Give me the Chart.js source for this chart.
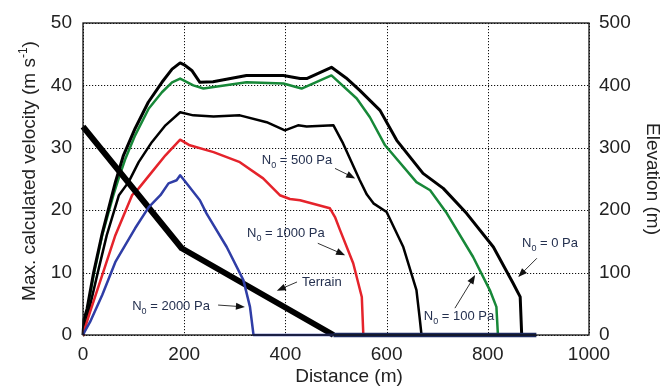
<!DOCTYPE html>
<html>
<head>
<meta charset="utf-8">
<script src="https://cdn.jsdelivr.net/npm/chart.js@4"></script>
<style>
  html, body { margin: 0; padding: 0; background: #fff; }
  #wrap { width: 671px; height: 390px; }
</style>
</head>
<body>
<div id="wrap"><canvas id="velChart" width="671" height="390"></canvas></div>
<script>
// max velocity along the path (distance m, velocity m/s) for each basal stress N0
const n0_0Pa = [[0,0],[2,2.5],[8,4.2],[21,10],[38,16.3],[57,22.3],[64,24.5],[80,28.8],[103,33.1],[129,37.3],[156,40.5],[176,42.6],[192,43.6],[200,43.3],[215,42.4],[231,40.5],[257,40.6],[323,41.6],[396,41.6],[429,41.1],[442,41.1],[491,42.9],[520,41.2],[547,39.2],[587,36],[607,33.1],[620,31.2],[672,25.9],[712,23.5],[758,19.5],[811,14.1],[850,8.3],[864,6.1],[867,0]];
const n0_100Pa = [[0,0],[1.3,0.5],[8,3.7],[21,9.6],[38,16],[60,22.4],[70.5,25.1],[84,28.3],[103,32],[130,36.3],[156,38.9],[176,40.5],[192,41.1],[218,40],[238,39.5],[323,40.5],[396,40.3],[432,39.5],[491,41.6],[541,37.9],[567,34.9],[597,30.4],[659,24.5],[686,23.2],[719,19.5],[771,12.5],[804,7.2],[817,4.5],[820,0]];
const n0_500Pa = [[0,0],[1.5,0.5],[11,3.7],[28,9.6],[47,16],[71,22.4],[90,24.5],[110,27.7],[136,30.9],[163,33.6],[192,35.7],[218,35.2],[258,35],[310,35.2],[363,34.1],[399,32.8],[425,33.6],[442,33.4],[495,33.6],[514,30.7],[547,24.8],[561,22.5],[574,21.1],[600,19.7],[633,14.1],[659,7.2],[665,3],[669,0]];
const n0_1000Pa = [[0,0],[1.5,0.5],[14,3.7],[38,9.6],[64,16],[97,22.4],[110,23.5],[136,26.1],[163,28.8],[192,31.3],[211,30.4],[258,29.3],[310,27.7],[356,25.1],[389,22.4],[409,21.8],[429,21.6],[488,20.3],[498,18.9],[508,16.8],[534,11.5],[551,6.1],[554,0]];
const n0_2000Pa = [[0,0],[3,0.5],[14,2.1],[38,6.4],[64,11.7],[103,17.1],[130,20.5],[153,22.4],[169,24.3],[185,24.8],[192,25.6],[200,24.8],[231,21.6],[244,19.5],[284,14.1],[317,8.8],[330,4.5],[337,0],[495,0]];

// terrain profile (distance m, elevation m) and the flat runout
const terrain = [[0,334],[195,139],[495,0]];
const runout = [[495,0],[896,0]];

const xTicks = [0, 200, 400, 600, 800, 1000];
const velTicks = [0, 10, 20, 30, 40, 50];
const elevTicks = [0, 100, 200, 300, 400, 500];

// callout labels: text after the subscript, label centre, arrow from -> to (velocity axis units)
const callouts = [
  { sub: true, text: " = 500 Pa", at: [423, 28.0], from: [498, 26.7], to: [538, 25.1] },
  { sub: true, text: " = 1000 Pa", at: [401, 16.3], from: [464, 14.7], to: [518, 12.8] },
  { sub: false, text: "Terrain", at: [472, 8.5], from: [423, 8.5], to: [383, 7.1] },
  { sub: true, text: " = 2000 Pa", at: [174, 4.5], from: [267, 4.8], to: [320, 4.5] },
  { sub: true, text: " = 100 Pa", at: [743, 2.9], from: [735, 4.3], to: [775, 9.6] },
  { sub: true, text: " = 0 Pa", at: [923, 14.7], from: [897, 12.3], to: [860, 9.3] }
];

const FONT = "'Liberation Sans', Arial, sans-serif";
const pts = arr => arr.map(p => ({ x: p[0], y: p[1] }));

function line(data, color, width, axis) {
  return {
    data: pts(data),
    borderColor: color,
    borderWidth: width,
    borderJoinStyle: "round",
    pointRadius: 0,
    tension: 0,
    fill: false,
    clip: false,
    yAxisID: axis || "y"
  };
}

// dotted grid at the tick positions, snapped to whole pixels
const dottedGrid = {
  id: "dottedGrid",
  beforeDatasetsDraw(c) {
    const ctx = c.ctx;
    const a = c.chartArea;
    ctx.save();
    ctx.strokeStyle = "#111";
    ctx.lineWidth = 1;
    ctx.setLineDash([1.2, 1.8]);
    c.scales.x.ticks.forEach(t => {
      const px = Math.round(c.scales.x.getPixelForValue(t.value)) + 0.5;
      ctx.beginPath();
      ctx.moveTo(px, a.top);
      ctx.lineTo(px, a.bottom);
      ctx.stroke();
    });
    c.scales.y.ticks.forEach(t => {
      const py = Math.round(c.scales.y.getPixelForValue(t.value)) + 0.5;
      ctx.beginPath();
      ctx.moveTo(a.left, py);
      ctx.lineTo(a.right, py);
      ctx.stroke();
    });
    ctx.restore();
  }
};

const frame = {
  id: "frame",
  afterDraw(c) {
    const ctx = c.ctx;
    const a = c.chartArea;
    const x = c.scales.x, y = c.scales.y;
    ctx.save();

    ctx.strokeStyle = "#111";
    ctx.lineWidth = 1.3;
    ctx.strokeRect(a.left, a.top, a.right - a.left, a.bottom - a.top);

    // callouts
    callouts.forEach(cl => {
      const cx = x.getPixelForValue(cl.at[0]);
      const cy = y.getPixelForValue(cl.at[1]);
      ctx.font = "13px " + FONT;
      ctx.textBaseline = "middle";
      ctx.fillStyle = "#24304f";
      const subFont = "9px " + FONT;
      let wN = 0, wS = 0;
      if (cl.sub) {
        wN = ctx.measureText("N").width;
        ctx.font = subFont;
        wS = ctx.measureText("0").width;
        ctx.font = "13px " + FONT;
      }
      const wT = ctx.measureText(cl.text).width;
      let sx = cx - (wN + wS + wT) / 2;
      ctx.textAlign = "left";
      if (cl.sub) {
        ctx.fillText("N", sx, cy);
        sx += wN;
        ctx.font = subFont;
        ctx.fillText("0", sx, cy + 5);
        sx += wS;
        ctx.font = "13px " + FONT;
      }
      ctx.fillText(cl.text, sx, cy);

      const x0 = x.getPixelForValue(cl.from[0]), y0 = y.getPixelForValue(cl.from[1]);
      const x1 = x.getPixelForValue(cl.to[0]), y1 = y.getPixelForValue(cl.to[1]);
      const ang = Math.atan2(y1 - y0, x1 - x0);
      ctx.strokeStyle = "#333";
      ctx.lineWidth = 1;
      ctx.beginPath();
      ctx.moveTo(x0, y0);
      ctx.lineTo(x1 - 6 * Math.cos(ang), y1 - 6 * Math.sin(ang));
      ctx.stroke();
      ctx.fillStyle = "#111";
      ctx.beginPath();
      ctx.moveTo(x1, y1);
      ctx.lineTo(x1 - 9 * Math.cos(ang) + 3.5 * Math.sin(ang), y1 - 9 * Math.sin(ang) - 3.5 * Math.cos(ang));
      ctx.lineTo(x1 - 9 * Math.cos(ang) - 3.5 * Math.sin(ang), y1 - 9 * Math.sin(ang) + 3.5 * Math.cos(ang));
      ctx.closePath();
      ctx.fill();
    });

    // axis titles
    ctx.fillStyle = "#222";
    ctx.font = "19px " + FONT;
    ctx.textBaseline = "middle";
    ctx.textAlign = "center";
    ctx.fillText("Distance (m)", 349, 377);

    ctx.save();
    ctx.translate(652, 179);
    ctx.rotate(Math.PI / 2);
    ctx.fillText("Elevation (m)", 0, 0);
    ctx.restore();

    ctx.save();
    ctx.translate(30, 171);
    ctx.rotate(-Math.PI / 2);
    const main = "Max. calculated velocity (m s";
    ctx.font = "19px " + FONT;
    const wm = ctx.measureText(main).width;
    ctx.font = "12px " + FONT;
    const wsup = ctx.measureText("-1").width;
    ctx.font = "19px " + FONT;
    const wc = ctx.measureText(")").width;
    let tx = -(wm + wsup + wc) / 2;
    ctx.textAlign = "left";
    ctx.fillText(main, tx, 0);
    tx += wm;
    ctx.font = "12px " + FONT;
    ctx.fillText("-1", tx, -6);
    tx += wsup;
    ctx.font = "19px " + FONT;
    ctx.fillText(")", tx, 0);
    ctx.restore();

    ctx.restore();
  }
};

const noGrid = { display: false, drawTicks: false };
const tickFont = { family: FONT, size: 19 };

new Chart(document.getElementById("velChart"), {
  type: "line",
  data: {
    datasets: [
      line(runout, "#1c2a5e", 4.5, "y2"),
      line(n0_2000Pa, "#2f3da6", 2.5),
      line(terrain, "#000", 6, "y2"),
      line(n0_1000Pa, "#e5232b", 2.5),
      line(n0_500Pa, "#000", 2.5),
      line(n0_0Pa, "#000", 3),
      line(n0_100Pa, "#178838", 2.5)
    ]
  },
  options: {
    responsive: false,
    animation: false,
    layout: { padding: { top: 23, left: 0, right: 0, bottom: 0 } },
    plugins: { legend: { display: false }, tooltip: { enabled: false } },
    scales: {
      x: {
        type: "linear",
        min: 0, max: 1000,
        afterBuildTicks: s => { s.ticks = xTicks.map(v => ({ value: v })); },
        afterFit: s => { s.height = 55; },
        grid: noGrid,
        border: { display: false },
        ticks: { padding: 8, color: "#222", font: tickFont, callback: v => String(v) }
      },
      y: {
        position: "left",
        min: 0, max: 50,
        afterBuildTicks: s => { s.ticks = velTicks.map(v => ({ value: v })); },
        afterFit: s => { s.width = 83; },
        grid: noGrid,
        border: { display: false },
        ticks: { padding: 11, color: "#222", font: tickFont, callback: v => String(v) }
      },
      y2: {
        position: "right",
        min: 0, max: 500,
        afterBuildTicks: s => { s.ticks = elevTicks.map(v => ({ value: v })); },
        afterFit: s => { s.width = 82; },
        grid: noGrid,
        border: { display: false },
        ticks: { padding: 10, color: "#222", font: tickFont, callback: v => String(v) }
      }
    }
  },
  plugins: [dottedGrid, frame]
});
</script>
</body>
</html>
